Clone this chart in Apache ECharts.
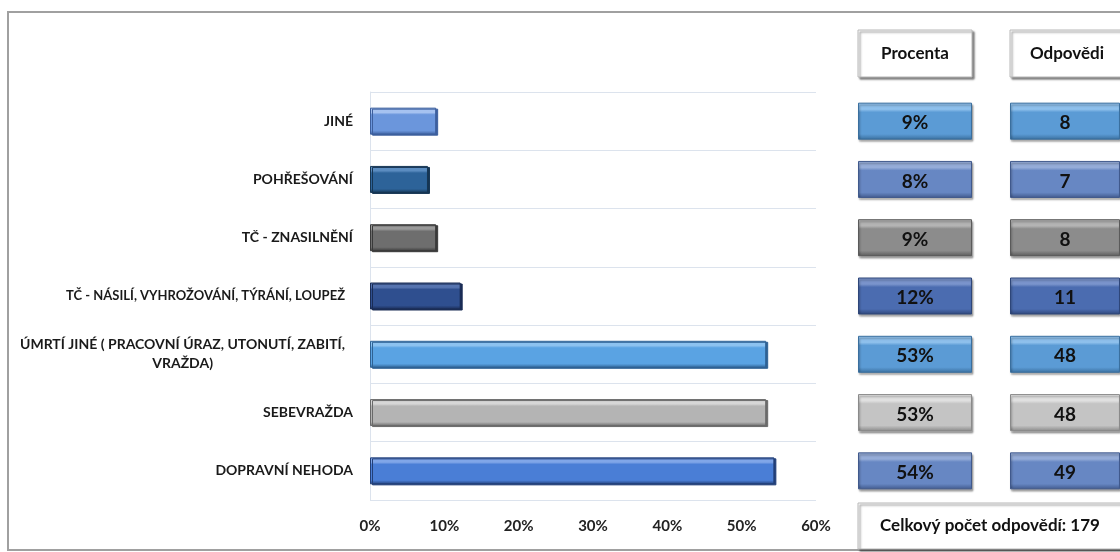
<!DOCTYPE html>
<html lang="cs">

<head>
    <meta charset="UTF-8">
    <style>
        body { margin: 0; background: #fff; }
        #main { width: 1120px; height: 552px; }
    </style>
    <title>Chart</title>
</head>

<body>
    <div id="main"></div>

    <script src="https://cdn.jsdelivr.net/npm/echarts@6/dist/echarts.min.js"></script>
    <script>
        // data, top row first
        var categories = [
            'JINÉ',
            'POHŘEŠOVÁNÍ',
            'TČ - ZNASILNĚNÍ',
            'TČ - NÁSILÍ, VYHROŽOVÁNÍ, TÝRÁNÍ, LOUPEŽ',
            'ÚMRTÍ JINÉ ( PRACOVNÍ ÚRAZ, UTONUTÍ, ZABITÍ,\nVRAŽDA)',
            'SEBEVRAŽDA',
            'DOPRAVNÍ NEHODA'
        ];
        var percents = [8.9, 7.8, 8.9, 12.2, 53.3, 53.3, 54.4];
        var percentLabels = ['9%', '8%', '9%', '12%', '53%', '53%', '54%'];
        var answers = [8, 7, 8, 11, 48, 48, 49];
        var xTicks = [0, 10, 20, 30, 40, 50, 60];

        // styles
        var barColors = [
            ['#a6c2f0', '#6b96dc', '#3d5f9e'],
            ['#5b8cc0', '#2d6399', '#163654'],
            ['#9a9a9a', '#6e6e6e', '#3a3a3a'],
            ['#5674b0', '#2f4f8f', '#1a2c55'],
            ['#8cc2f0', '#5aa3e3', '#2f6294'],
            ['#d6d6d6', '#b4b4b4', '#6a6a6a'],
            ['#80a6e8', '#4a7ed6', '#223f78']
        ];
        var boxColors = [
            ['#8ec0ec', '#5b9bd5', '#3a6f9e'],
            ['#95acd8', '#6787c3', '#40598c'],
            ['#b4b4b4', '#8c8c8c', '#5a5a5a'],
            ['#7a94cc', '#4b6cb0', '#2e4679'],
            ['#8ec0ec', '#5b9bd5', '#3a6f9e'],
            ['#e0e0e0', '#c4c4c4', '#8a8a8a'],
            ['#95acd8', '#6787c3', '#40598c']
        ];
        var font = 'Lato, "Open Sans", sans-serif';

        function bevel(c) {
            return {
                type: 'linear', x: 0, y: 0, x2: 0, y2: 1,
                colorStops: [
                    { offset: 0, color: c[0] },
                    { offset: 0.18, color: c[0] },
                    { offset: 0.26, color: c[1] },
                    { offset: 0.85, color: c[1] },
                    { offset: 1, color: c[2] }
                ]
            };
        }

        var total = answers.reduce(function (a, b) { return a + b; }, 0);

        var barData = percents.map(function (v, i) {
            return {
                value: v,
                itemStyle: {
                    color: bevel(barColors[i]),
                    borderColor: barColors[i][2],
                    borderWidth: 1,
                    shadowColor: barColors[i][2],
                    shadowOffsetX: 2,
                    shadowOffsetY: 1
                }
            };
        });

        function boxData(i) {
            return {
                value: 1,
                itemStyle: {
                    color: bevel(boxColors[i]),
                    borderColor: boxColors[i][2],
                    borderWidth: 1,
                    shadowColor: 'rgba(0,0,0,0.35)',
                    shadowBlur: 2,
                    shadowOffsetX: 1,
                    shadowOffsetY: 2
                }
            };
        }

        var boxLabel = {
            show: true,
            position: 'inside',
            color: '#111',
            fontFamily: font,
            fontWeight: 'bold',
            fontSize: 19,
            offset: [0, 2]
        };

        function hiddenGridAxes(idx) {
            return {
                x: { gridIndex: idx, type: 'value', min: 0, max: 1, show: false },
                y: { gridIndex: idx, type: 'category', inverse: true, data: categories, show: false }
            };
        }
        var g1 = hiddenGridAxes(1), g2 = hiddenGridAxes(2);

        function headerBox(x, y, w, h, text) {
            return {
                type: 'group',
                children: [{
                    type: 'rect',
                    shape: { x: x, y: y, width: w, height: h },
                    style: {
                        fill: '#fff',
                        stroke: '#b8b8b8',
                        lineWidth: 1,
                        shadowColor: 'rgba(0,0,0,0.5)',
                        shadowBlur: 2,
                        shadowOffsetX: 2,
                        shadowOffsetY: 2
                    }
                }, {
                    type: 'text',
                    x: x + w / 2,
                    y: y + h / 2,
                    style: {
                        text: text,
                        fill: '#111',
                        font: 'bold 17px ' + font,
                        align: 'center',
                        verticalAlign: 'middle'
                    }
                }]
            };
        }

        // label text styles for the category axis
        var lbl = { fontFamily: font, fontWeight: 'bold', color: '#1a1a1a' };
        function ls(size, padRight, lh) {
            return Object.assign({ fontSize: size, lineHeight: lh || 18, padding: [0, padRight, 0, 0] }, lbl);
        }

        var myChart = echarts.init(document.getElementById('main'));

        var option = {
            animation: false,
            graphic: [
                {
                    type: 'rect',
                    shape: { x: 8, y: 12, width: 1120, height: 538 },
                    style: { fill: 'none', stroke: '#a0a0a0', lineWidth: 2 }
                },
                headerBox(858, 30, 114, 47, 'Procenta'),
                headerBox(1010, 30, 114, 47, 'Odpovědi'),
                headerBox(858, 503, 264, 46, 'Celkový počet odpovědí: ' + total)
            ],
            grid: [
                { left: 370, top: 92, width: 446, height: 408 },
                { left: 858, top: 92, width: 114, height: 408 },
                { left: 1010, top: 92, width: 114, height: 408 }
            ],
            xAxis: [
                {
                    gridIndex: 0,
                    type: 'value',
                    min: xTicks[0],
                    max: xTicks[xTicks.length - 1],
                    interval: 10,
                    axisLine: { show: false },
                    axisTick: { show: false },
                    splitLine: { show: false },
                    axisLabel: {
                        formatter: '{value}%',
                        color: '#222',
                        fontFamily: font,
                        fontWeight: 'bold',
                        fontSize: 15,
                        margin: 19
                    }
                },
                g1.x, g2.x
            ],
            yAxis: [
                {
                    gridIndex: 0,
                    type: 'category',
                    inverse: true,
                    data: categories,
                    axisLine: { lineStyle: { color: '#dce3ed' } },
                    axisTick: { length: 5, lineStyle: { color: '#dce3ed' } },
                    splitLine: { show: true, lineStyle: { color: '#dce3ed' } },
                    axisLabel: {
                        margin: 17,
                        color: '#1a1a1a',
                        fontFamily: font,
                        fontWeight: 'bold',
                        fontSize: 14,
                        formatter: function (v) {
                            var parts = v.split('\n');
                            if (parts.length > 1) return '{a|' + parts[0] + '}\n{b|' + parts[1] + '}';
                            if (v.length > 30) return '{s|' + v + '}';
                            return '{n|' + v + '}';
                        },
                        rich: {
                            n: ls(14, 0),
                            s: ls(13, 8),
                            a: ls(14, 8, 19),
                            b: ls(14, 140, 19)
                        }
                    }
                },
                g1.y, g2.y
            ],
            series: [
                {
                    type: 'bar',
                    xAxisIndex: 0,
                    yAxisIndex: 0,
                    barWidth: 27,
                    data: barData
                },
                {
                    type: 'bar',
                    xAxisIndex: 1,
                    yAxisIndex: 1,
                    barWidth: 37,
                    data: categories.map(function (c, i) { return boxData(i); }),
                    label: Object.assign({}, boxLabel, {
                        formatter: function (p) { return percentLabels[p.dataIndex]; }
                    })
                },
                {
                    type: 'bar',
                    xAxisIndex: 2,
                    yAxisIndex: 2,
                    barWidth: 37,
                    data: categories.map(function (c, i) { return boxData(i); }),
                    label: Object.assign({}, boxLabel, {
                        formatter: function (p) { return String(answers[p.dataIndex]); }
                    })
                }
            ]
        };

        myChart.setOption(option);
    </script>
</body>

</html>
